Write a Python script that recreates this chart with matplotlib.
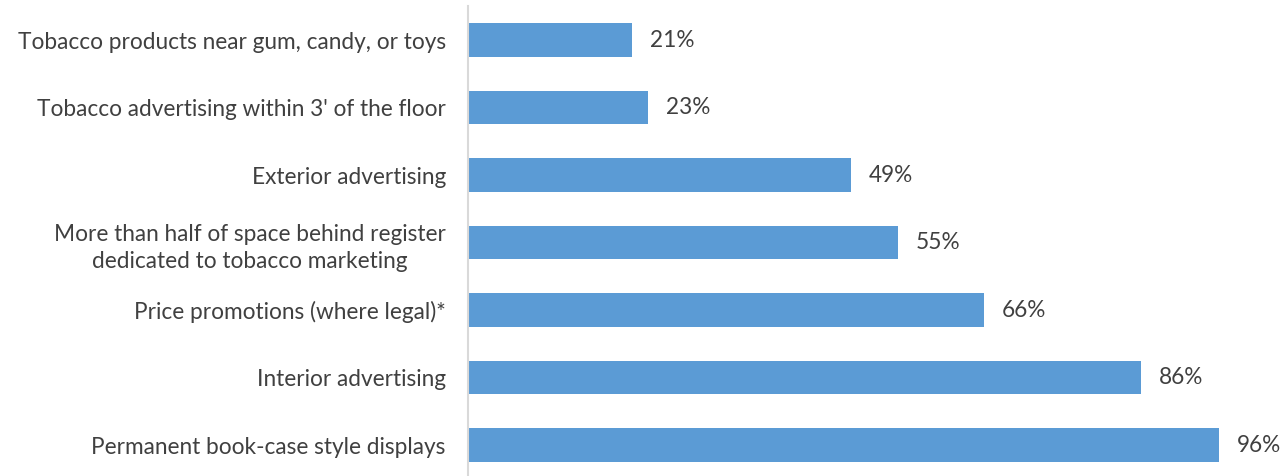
import matplotlib
matplotlib.use("Agg")
import matplotlib.pyplot as plt

categories = [
    "Tobacco products near gum, candy, or toys",
    "Tobacco advertising within 3' of the floor",
    "Exterior advertising",
    "More than half of space behind register\ndedicated to tobacco marketing",
    "Price promotions (where legal)*",
    "Interior advertising",
    "Permanent book-case style displays",
]
values = [21, 23, 49, 55, 66, 86, 96]
value_labels = ["21%", "23%", "49%", "55%", "66%", "86%", "96%"]

plt.rcParams['font.family'] = ['Lato', 'DejaVu Sans']
text_color = "#404040"
fs = 16.3

fig = plt.figure(figsize=(12.88, 4.76), dpi=100)
W, H = 1288, 476
ax = fig.add_axes([468 / W, (476 - 478.75) / H, (1250 - 468) / W, 472.5 / H])

ypos = list(range(len(categories)))
ax.barh(ypos, values, height=0.5, color="#5B9BD5", edgecolor="none")
ax.set_xlim(0, 100)
ax.set_ylim(len(categories) - 0.5, -0.5)

for y, v, lab in zip(ypos, values, value_labels):
    ax.annotate(lab, xy=(v, y), xytext=(13, 0), textcoords="offset points",
                ha="left", va="center", fontsize=fs, color=text_color)

ax.set_yticks(ypos)
labels = ax.set_yticklabels(categories, fontsize=fs, color=text_color,
                            multialignment="center", linespacing=1.4)
ax.tick_params(axis="y", length=0, pad=16)
ax.set_xticks([])
for s in ["top", "right", "bottom"]:
    ax.spines[s].set_visible(False)
ax.spines["left"].set_color("#D9D9D9")
ax.spines["left"].set_linewidth(1.5)

fig.savefig("out.png", dpi=100)
